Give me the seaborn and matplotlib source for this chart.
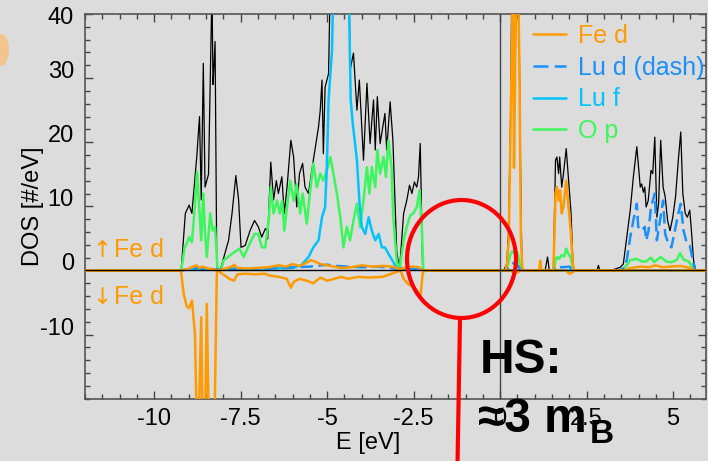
import matplotlib
matplotlib.use("Agg")
import matplotlib.pyplot as plt
import matplotlib.transforms as mtransforms
from matplotlib.patches import Ellipse
from matplotlib.lines import Line2D
from matplotlib.ticker import MultipleLocator, FixedLocator, FuncFormatter
import seaborn as sns

# ---------------- data ----------------
tot_E = [-12, -9.25, -9.22, -9.10, -8.99, -8.91, -8.77, -8.69, -8.64, -8.58, -8.53, -8.43, -8.33, -8.30, -8.28,
         -8.24, -8.19, -8.09, -7.99, -7.85, -7.75, -7.64, -7.56, -7.49, -7.37, -7.23, -7.10, -6.99, -6.89, -6.79,
         -6.76, -6.72, -6.63, -6.55, -6.47, -6.41, -6.31, -6.24, -6.16, -6.05, -5.97, -5.88, -5.80, -5.71, -5.64,
         -5.54, -5.40, -5.25, -5.20, -5.15, -5.11, -5.06, -4.96, -4.91, -4.80, -4.40, -4.36, -4.34, -4.24, -4.14,
         -4.07, -3.95, -3.85, -3.76, -3.66, -3.61, -3.55, -3.47, -3.33, -3.28, -3.18, -3.10, -2.99, -2.91, -2.79,
         -2.70, -2.62, -2.55, -2.48, -2.41, -2.36, -2.31, -2.24, 0.10, 0.19, 0.24, 0.31, 0.34, 0.53, 0.58, 0.63,
         1.30, 1.37, 1.42, 1.54, 1.60, 1.64, 1.69, 1.72, 1.78, 1.83, 1.91, 1.97, 2.05, 2.10, 2.13, 2.80, 2.84,
         2.88, 3.20, 3.47, 3.56, 3.66, 3.76, 3.85, 3.95, 3.99, 4.05, 4.09, 4.14, 4.18, 4.22, 4.28, 4.36, 4.41,
         4.47, 4.53, 4.58, 4.64, 4.71, 4.77, 4.84, 4.91, 4.99, 5.07, 5.15, 5.22, 5.28, 5.35, 5.41, 5.48, 5.52,
         5.59, 5.65, 6]
tot_D = [0, 0, 0, 8.9, 10.2, 8.9, 17.7, 24, 11, 32.3, 13, 15, 44, 29, 31,
         35.7, 0, 0, 2, 4.7, 8.9, 14.8, 11, 3.6, 3.9, 6.2, 7.8, 6.8, 5.2, 6.5,
         6.5, 4.9, 16.9, 11, 14, 12, 14.6, 8.9, 13, 20.3, 17.7, 9.9, 15.1, 16.7, 13,
         12, 17.2, 22.4, 25, 29.7, 18.2, 28.6, 30.7, 45, 62, 60, 42, 31.2, 33.9, 25,
         29.7, 17.2, 29.2, 19.8, 26.6, 18.8, 27.1, 19.8, 24.5, 18.8, 26.3, 20.3, 3.1, 0, 8.9,
         10.9, 13.3, 12, 13.8, 13, 14.6, 19.8, 0, 0, 1, 5.7, 26.6, 48, 48, 20, 0,
         0, 2.1, 0, 0, 17.2, 17.7, 15.1, 17.7, 13, 15.1, 19, 14.6, 8.9, 1.6, 0, 0, 0.8,
         0, 0, 0.5, 1, 5.2, 9.4, 14.6, 19.3, 16.7, 13, 13.5, 12.2, 13, 9.9, 10.9, 15.6, 15.1,
         20.8, 8.3, 10.4, 20.3, 13, 11.5, 7.8, 6.2, 8.3, 11.5, 17.2, 21.6, 12, 8.9, 8.3, 9.4, 6.8,
         1.6, 0, 0]

op_E = [-12, -9.22, -9.12, -9.06, -8.99, -8.91, -8.84, -8.76, -8.70, -8.64, -8.58, -8.53, -8.48, -8.38, -8.31,
        -8.24, -8.17, -8.07, -7.99, -7.75, -7.54, -7.41, -7.29, -7.10, -6.99, -6.89, -6.79, -6.69, -6.63, -6.55,
        -6.45, -6.37, -6.30, -6.24, -6.16, -6.07, -5.97, -5.88, -5.78, -5.71, -5.59, -5.49, -5.40, -5.30, -5.20,
        -5.11, -5.01, -4.91, -4.82, -4.72, -4.62, -4.53, -4.43, -4.34, -4.24, -4.14, -4.05, -3.95, -3.85, -3.78,
        -3.71, -3.61, -3.55, -3.47, -3.37, -3.30, -3.23, -3.14, -3.09, -2.99, -2.91, -2.79, -2.70, -2.60, -2.51,
        -2.41, -2.33, -2.26, -2.22, 0.15, 0.20, 0.25, 0.30, 0.35, 0.40, 0.45, 0.50, 0.55, 0.60, 0.64,
        1.55, 1.60, 1.65, 1.70, 1.78, 1.85, 1.91, 1.97, 2.04, 2.10, 2.13, 3.50, 3.66, 3.76, 3.95, 4.09, 4.22,
        4.36, 4.45, 4.64, 4.80, 4.95, 5.10, 5.20, 5.30, 5.45, 5.55, 5.64, 6]
op_D = [0, 0, 3.6, 4.2, 5.2, 4.4, 8.9, 15.4, 9.9, 4.7, 12, 5.7, 2.1, 8.9, 6.2,
        6.8, 0, 0, 1.6, 2.6, 3.4, 2.1, 3.6, 5.7, 5.7, 3.6, 3.6, 7.8, 13, 8.9,
        10.9, 8.9, 10.9, 6.2, 9.9, 14, 10.9, 13.5, 8.9, 12, 7.3, 12.5, 16.7, 13, 15.1,
        14, 15.6, 17.7, 15.1, 12, 8.3, 3.6, 6.8, 4.7, 7.8, 10.4, 6.8, 10.9, 16.1, 12,
        16.1, 13, 18.8, 15.1, 17.7, 14.6, 20.3, 16.1, 8.3, 1.6, 0, 4.7, 6.8, 8.6, 8.9,
        9.9, 12.5, 6.2, 0, 0, 0.3, 1.5, 2.5, 3.0, 2.8, 3.0, 2.8, 1.5, 0.3, 0,
        0, 1.6, 2.1, 1.8, 2.4, 2.2, 3.4, 2.6, 2.0, 0.5, 0, 0, 0.8, 1.6, 1.8, 1.4, 1.4,
        2.0, 1.3, 2.1, 1.4, 1.3, 1.6, 2.7, 1.7, 1.4, 0.6, 0, 0]

luf_E = [-12, -9.2, -9.0, -8.2, -7.5, -7.0, -6.0, -5.75, -5.54, -5.40, -5.25, -5.15, -5.06, -5.01, -4.96,
         -4.86, -4.82, -4.70, -4.50, -4.38, -4.32, -4.26, -4.14, -4.07, -4.00, -3.90, -3.80, -3.71, -3.61, -3.51,
         -3.42, -3.33, -3.23, -3.12, -2.98, -2.70, -2.30, -2.20, 6]
luf_D = [0, 0, 0.2, 0.1, 0.2, 0.3, 0.4, 0.8, 2.1, 3.6, 4.7, 8.3, 9.9, 16.1, 26.6,
         34.4, 45, 60, 60, 45, 26.6, 22.9, 17.2, 10.9, 6.8, 5.7, 8.3, 6.2, 4.7, 5.7,
         3.6, 3.6, 2.6, 1.6, 0.3, 0.2, 0.3, 0, 0]

lud_E = [-12, -9.2, -9.0, -8.5, -8.2, -7.8, -7.0, -6.5, -6.0, -5.5, -5.0, -4.7, -4.4, -4.0, -3.5,
         -3.0, -2.6, -2.3, -2.2, 0.2, 0.3, 0.4, 0.5, 0.6, 1.55, 1.6, 1.8, 2.0, 2.1, 3.4,
         3.56, 3.66, 3.76, 3.85, 3.95, 3.99, 4.09, 4.18, 4.22, 4.29, 4.36, 4.47, 4.53, 4.62, 4.71,
         4.77, 4.86, 4.95, 5.05, 5.15, 5.22, 5.30, 5.40, 5.48, 5.57, 5.64, 6]
lud_D = [0, 0, 0.3, 0.4, 0.1, 0.3, 0.2, 0.4, 0.5, 0.6, 0.9, 0.7, 0.6, 0.5, 0.6,
         0.3, 0.4, 0.3, 0, 0, 0.8, 1.2, 0.8, 0, 0, 0.6, 0.5, 0.6, 0, 0,
         0.3, 1.6, 5.2, 7.8, 10.4, 6.8, 6.2, 6.8, 4.7, 6.2, 9.9, 12, 4.7, 7.8, 10.9,
         5.7, 4.2, 3.6, 6.2, 8.9, 10.4, 6.2, 4.2, 3.9, 1.6, 0, 0]

fe_up_E = [-12, -9.2, -9.0, -8.78, -8.70, -8.60, -8.45, -8.30, -8.19, -8.0, -7.75, -7.69, -7.6, -7.3, -7.0,
           -6.7, -6.4, -6.2, -6.0, -5.8, -5.6, -5.48, -5.35, -5.2, -5.0, -4.6, -4.3, -4.0, -3.7, -3.4,
           -3.1, -2.9, -2.7, -2.5, -2.35, -2.24, 0.15, 0.20, 0.25, 0.30, 0.34, 0.37, 0.40, 0.43, 0.47,
           0.52, 0.56, 0.60, 0.64, 0.68, 1.13, 1.16, 1.19, 1.54, 1.60, 1.64, 1.69, 1.73, 1.78, 1.83,
           1.91, 1.97, 2.04, 2.10, 2.14, 3.6, 3.7, 3.9, 4.1, 4.3, 4.5, 4.7, 4.9, 5.2, 5.5, 5.6, 6]
fe_up_D = [0, 0, 0.3, 0.8, 0.4, 0.6, 0.3, 0.2, 0, 0.2, 0.6, 0.9, 0.4, 0.3, 0.4,
           0.5, 0.8, 0.6, 1.0, 0.7, 1.2, 1.6, 1.4, 1.0, 0.8, 0.4, 0.5, 0.8, 0.6, 0.7,
           0.6, 0.2, 0.5, 0.6, 0.5, 0, 0, 1, 5, 22, 35, 46, 16, 30, 46,
           46, 30, 5, 0.5, 0, 0, 1.5, 0, 0, 12, 13, 10.9, 12.5, 8.9, 9.9,
           14, 10.4, 6.2, 1, 0, 0, 0.3, 0.5, 0.6, 0.5, 0.8, 0.5, 0.6, 0.7, 0.4, 0, 0]

fe_dn_E = [-12, -9.25, -9.22, -9.15, -9.06, -8.99, -8.91, -8.82, -8.77, -8.72, -8.64, -8.60, -8.53, -8.48, -8.42,
           -8.26, -8.19, -8.14, -8.05, -7.95, -7.83, -7.69, -7.6, -7.37, -7.1, -6.8, -6.65, -6.4, -6.17, -6.05,
           -5.97, -5.8, -5.59, -5.40, -5.2, -5.0, -4.6, -4.4, -4.1, -3.8, -3.4, -3.03, -2.88, -2.79, -2.66,
           -2.51, -2.41, -2.31, -2.24, -2.20, 0.3, 0.4, 0.5, 0.6, 1.9, 2.0, 2.1, 2.15, 6]
fe_dn_D = [0, 0, -0.3, -3.6, -5.6, -5.9, -4.7, -9.9, -25, -25, -7.3, -25, -25, -5.2, -25,
           -25, -0.5, 0, -0.5, -0.8, -1.3, -1.6, -0.6, -0.5, -0.6, -0.5, -0.8, -1.0, -1.3, -2.7,
           -1.8, -1.3, -1.6, -2.0, -1.1, -1.6, -1.0, -1.3, -1.0, -1.1, -1.0, -0.3, 0, -1.3, -2.1,
           -2.6, -3.1, -4.4, -0.5, 0, 0, -0.4, -0.3, 0, 0, -0.5, -0.3, 0, 0]

legend_labels = ["Fe d", "Lu d (dash)", "Lu f", "O p"]
x_ticks = [-10, -7.5, -5, -2.5, 0, 2.5, 5]
y_ticks = [-10, 0, 10, 20, 30, 40]

# ---------------- style ----------------
C_FE = "#ff9a00"
C_LUD = "#1a8fff"
C_LUF = "#00c3ff"
C_OP = "#3df55c"
BG = "#dcdcdc"

sns.set_theme(style="ticks")
plt.rcParams["font.family"] = ["Liberation Sans", "DejaVu Sans"]
plt.rcParams["axes.unicode_minus"] = False
plt.rcParams["text.color"] = "black"
plt.rcParams["axes.labelcolor"] = "black"

W, H = 708, 461
fig = plt.figure(figsize=(W / 100, H / 100), dpi=100, facecolor=BG)
L, R, T, B = 85, 706, 14, 398.7
ax = fig.add_axes([L / W, 1 - B / H, (R - L) / W, (B - T) / H], facecolor=BG)

sns.lineplot(x=tot_E, y=tot_D, ax=ax, color="black", lw=0.9, estimator=None, sort=False, zorder=2)
sns.lineplot(x=op_E, y=op_D, ax=ax, color=C_OP, lw=1.8, estimator=None, sort=False, zorder=3)
sns.lineplot(x=luf_E, y=luf_D, ax=ax, color=C_LUF, lw=1.8, estimator=None, sort=False, zorder=4)
sns.lineplot(x=lud_E, y=lud_D, ax=ax, color=C_LUD, lw=1.8, estimator=None, sort=False, zorder=5,
             linestyle=(0, (5, 2.2)))
sns.lineplot(x=fe_dn_E, y=fe_dn_D, ax=ax, color=C_FE, lw=1.8, estimator=None, sort=False, zorder=6)
sns.lineplot(x=fe_up_E, y=fe_up_D, ax=ax, color=C_FE, lw=1.8, estimator=None, sort=False, zorder=6)

ax.axhline(0, color="black", lw=1.0, zorder=7)
ax.axvline(0, color="#444444", lw=1.0, zorder=7)

ax.set_xlim(-12, 5.95)
ax.set_ylim(-20, 40)

ax.xaxis.set_major_locator(FixedLocator(x_ticks))
ax.xaxis.set_minor_locator(MultipleLocator(0.5))
ax.yaxis.set_major_locator(FixedLocator(y_ticks))
ax.yaxis.set_minor_locator(MultipleLocator(2))
ax.xaxis.set_major_formatter(FuncFormatter(lambda v, p: f"{v:g}"))
ax.yaxis.set_major_formatter(FuncFormatter(lambda v, p: f"{v:g}"))

ax.tick_params(which="both", direction="in", top=True, right=True, colors="#444444",
               labelcolor="black", labelsize=17)
ax.tick_params(which="major", length=6, width=1.0)
ax.tick_params(which="minor", length=3.5, width=1.0)
ax.tick_params(axis="x", which="major", pad=7)
ax.tick_params(axis="y", which="major", pad=8)
for s in ax.spines.values():
    s.set_color("#555555")
    s.set_linewidth(1.2)

for lab in ax.get_yticklabels():
    lab.set_va("baseline")
fig.canvas.draw()
for lab in ax.get_yticklabels():
    if lab.get_text() == "40":
        lab.set_va("center")
        lab.set_transform(lab.get_transform() + mtransforms.ScaledTranslation(0, -4 / 100, fig.dpi_scale_trans))

ax.set_xlabel("E [eV]", fontsize=17)
ax.set_ylabel("DOS [#/eV]", fontsize=17)
ax.xaxis.set_label_coords((368 - L) / (R - L), -(443 - B) / (B - T), transform=ax.transAxes)
ax.yaxis.set_label_coords(-(L - 33) / (R - L), 0.5, transform=ax.transAxes)
ax.xaxis.label.set_va("center")
ax.yaxis.label.set_va("center")

handles = [Line2D([], [], color=C_FE, lw=1.8),
           Line2D([], [], color=C_LUD, lw=1.8, linestyle=(0, (6, 2.5))),
           Line2D([], [], color=C_LUF, lw=1.8),
           Line2D([], [], color=C_OP, lw=1.8)]
leg = ax.legend(handles, legend_labels, loc="upper left", frameon=False, fontsize=18,
                labelcolor=[C_FE, C_LUD, C_LUF, C_OP], handlelength=1.3, handletextpad=0.5,
                labelspacing=0.31, borderaxespad=0, borderpad=0,
                bbox_to_anchor=((533 - L) / (R - L), (B - 24) / (B - T)))
leg.set_zorder(10)


# overlaid annotation (figure pixel coordinates)
def fx(x):
    return x / W


def fy(y):
    return 1 - y / H


# spin labels: arrow glyph + text
for yc, arrow in ((250, "↑"), (297, "↓")):
    fig.text(fx(101.5), fy(yc), arrow, color=C_FE, fontsize=16.5, family=["DejaVu Sans"],
             ha="center", va="center", zorder=10)
    fig.text(fx(114), fy(yc), "Fe d", color=C_FE, fontsize=18, ha="left", va="center", zorder=10)

circ = Ellipse((fx(461.5), fy(259)), 109 / W, 118 / H, transform=fig.transFigure,
               fill=False, edgecolor="#ff0000", lw=3.0, zorder=20)
fig.add_artist(circ)
fig.add_artist(Line2D([fx(460), fx(457.5)], [fy(319), fy(465)], transform=fig.transFigure,
                      color="#ff0000", lw=3.0, zorder=20))
blob = Ellipse((fx(1), fy(50)), 16 / W, 32 / H, transform=fig.transFigure,
               color="#f2c48e", lw=0, zorder=1)
fig.add_artist(blob)

fig.text(fx(480), fy(372.7), "HS:", fontsize=34.5, fontweight="bold", color="black",
         ha="left", va="baseline", zorder=30)
fig.text(fx(478), fy(432), "≈3 m", fontsize=34.5, fontweight="bold", color="black",
         ha="left", va="baseline", zorder=30)
fig.text(fx(590), fy(443), "B", fontsize=24, fontweight="bold", color="black",
         ha="left", va="baseline", zorder=30)

fig.savefig("out.png", dpi=100, facecolor=BG)
